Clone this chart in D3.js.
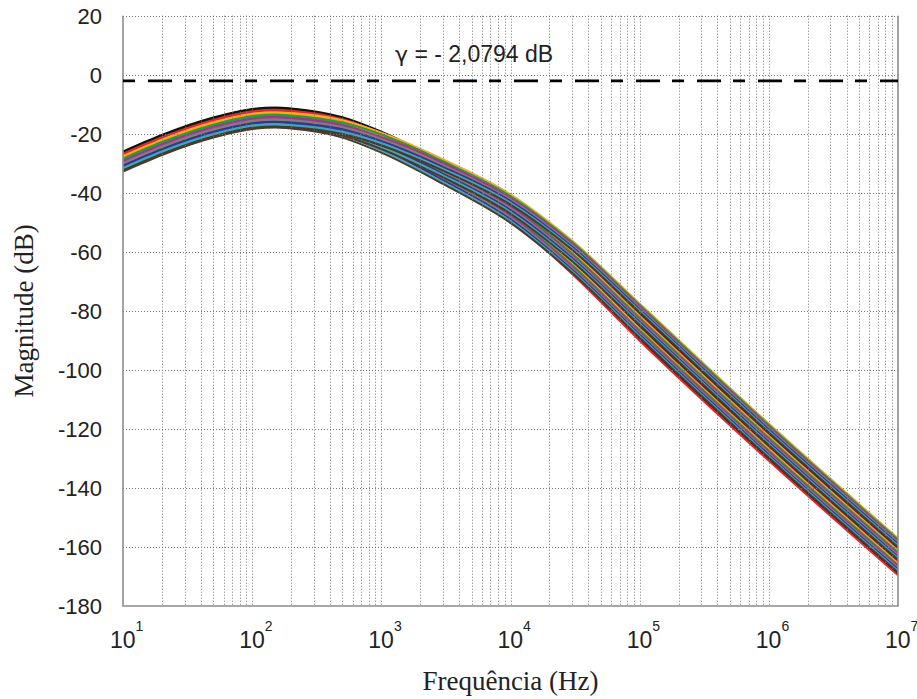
<!DOCTYPE html>
<html>
<head>
<meta charset="utf-8">
<script src="https://cdn.jsdelivr.net/npm/d3@7"></script>
<style>
    body { margin: 0; background: #fff; }
    #chart-container { width: 917px; height: 699px; }
</style>
</head>
<body>
<div id="chart-container"></div>
<script>
const freqs = [10, 20, 50, 100, 150, 200, 500, 1e3, 3e3, 1e4, 3e4, 1e5, 1e6, 1e7];

// Magnitude (dB), one row per curve, grouped by colour
const blackCurves = [
    [-26.0, -20.4, -14.5, -11.6, -11.1, -11.4, -14.4, -19.3, -29.6, -42.5, -59.2, -81.0, -121.7, -160.5],
    [-26.2, -20.6, -14.7, -11.8, -11.3, -11.6, -15.0, -20.5, -31.8, -45.5, -63.0, -85.3, -126.0, -164.8],
    [-26.4, -20.8, -14.9, -12.0, -11.5, -11.8, -15.6, -21.7, -34.1, -48.6, -66.9, -89.6, -130.3, -169.1]
];
const redCurves = [
    [-26.8, -21.2, -15.3, -12.4, -11.9, -12.2, -15.1, -20.0, -30.2, -43.0, -59.7, -81.5, -122.2, -161.0],
    [-27.0, -21.4, -15.5, -12.6, -12.1, -12.4, -15.7, -21.2, -32.5, -46.1, -63.6, -85.8, -126.5, -165.3],
    [-27.2, -21.6, -15.7, -12.8, -12.3, -12.6, -16.3, -22.5, -34.7, -49.2, -67.5, -90.1, -130.8, -169.6]
];
const goldCurves = [
    [-27.6, -22.0, -16.1, -13.2, -12.7, -13.0, -15.4, -19.6, -28.6, -40.5, -56.2, -77.5, -118.2, -157.0],
    [-27.8, -22.2, -16.3, -13.4, -12.9, -13.2, -16.1, -20.8, -30.9, -43.6, -60.1, -81.8, -122.5, -161.3],
    [-28.0, -22.4, -16.5, -13.6, -13.1, -13.4, -16.7, -22.1, -33.1, -46.6, -63.9, -86.1, -126.8, -165.6]
];
const greenCurves = [
    [-28.4, -22.8, -16.9, -14.0, -13.5, -13.8, -16.2, -20.3, -29.3, -41.1, -56.7, -78.0, -118.7, -157.5],
    [-28.6, -23.0, -17.1, -14.2, -13.7, -14.0, -16.8, -21.6, -31.5, -44.1, -60.6, -82.3, -123.0, -161.8],
    [-28.8, -23.2, -17.3, -14.4, -13.9, -14.2, -17.4, -22.8, -33.8, -47.2, -64.5, -86.6, -127.3, -166.1]
];
const magentaCurves = [
    [-29.2, -23.6, -17.7, -14.8, -14.3, -14.6, -17.0, -21.1, -29.9, -41.7, -57.2, -78.5, -119.2, -158.0],
    [-29.4, -23.8, -17.9, -15.0, -14.5, -14.8, -17.6, -22.3, -32.2, -44.7, -61.1, -82.8, -123.5, -162.3],
    [-29.6, -24.0, -18.1, -15.2, -14.7, -15.0, -18.2, -23.5, -34.4, -47.8, -65.0, -87.1, -127.8, -166.6]
];
const grayCurves = [
    [-30.0, -24.4, -18.5, -15.6, -15.1, -15.4, -17.8, -21.8, -30.6, -42.3, -57.8, -79.0, -119.7, -158.5],
    [-30.2, -24.6, -18.7, -15.8, -15.3, -15.6, -18.4, -23.0, -32.8, -45.3, -61.6, -83.3, -124.0, -162.8],
    [-30.4, -24.8, -18.9, -16.0, -15.5, -15.8, -19.0, -24.2, -35.1, -48.4, -65.5, -87.6, -128.3, -167.1]
];
const blueCurves = [
    [-30.8, -25.2, -19.3, -16.4, -15.9, -16.2, -18.5, -22.5, -31.2, -42.8, -58.3, -79.5, -120.2, -159.0],
    [-31.0, -25.4, -19.5, -16.6, -16.1, -16.4, -19.1, -23.7, -33.5, -45.9, -62.2, -83.8, -124.5, -163.3],
    [-31.2, -25.6, -19.7, -16.8, -16.3, -16.6, -19.7, -25.0, -35.7, -49.0, -66.1, -88.1, -128.8, -167.6]
];
const cyanCurves = [
    [-31.6, -26.0, -20.1, -17.2, -16.7, -17.0, -19.3, -23.2, -31.9, -43.4, -58.8, -80.0, -120.7, -159.5],
    [-31.8, -26.2, -20.3, -17.4, -16.9, -17.2, -19.9, -24.5, -34.1, -46.5, -62.7, -84.3, -125.0, -163.8],
    [-32.0, -26.4, -20.5, -17.6, -17.1, -17.4, -20.5, -25.7, -36.4, -49.6, -66.6, -88.6, -129.3, -168.1]
];
const brownCurves = [
    [-32.4, -26.8, -20.9, -18.0, -17.5, -17.8, -20.1, -24.0, -32.5, -44.0, -59.3, -80.5, -121.2, -160.0],
    [-32.6, -27.0, -21.1, -18.2, -17.7, -18.0, -20.7, -25.2, -34.8, -47.1, -63.2, -84.8, -125.5, -164.3],
    [-32.8, -27.2, -21.3, -18.4, -17.9, -18.2, -21.3, -26.4, -37.0, -50.2, -67.1, -89.1, -129.8, -168.6]
];

const curveGroups = [blackCurves, redCurves, goldCurves, greenCurves, magentaCurves,
    grayCurves, blueCurves, cyanCurves, brownCurves];
const groupColors = ['#1a1208', '#e3262b', '#f0b020', '#2a9a48', '#a5358d',
    '#7f7f7f', '#2b3a92', '#44a5b3', '#4a3a2c'];

const yTicks = [20, 0, -20, -40, -60, -80, -100, -120, -140, -160, -180];
const xDecades = [1, 2, 3, 4, 5, 6, 7];
const gammaDb = -2.0794;

const margin = { left: 123, right: 19, top: 15.7, bottom: 93 };
const width = 917;
const height = 699;

const svg = d3.select('#chart-container').append('svg')
    .attr('width', width)
    .attr('height', height)
    .attr('font-family', 'Arial, "Liberation Sans", sans-serif');

const x = d3.scaleLog()
    .domain([10, 1e7])
    .range([margin.left, width - margin.right]);

const y = d3.scaleLinear()
    .domain([-180, 20])
    .range([height - margin.bottom, margin.top]);

const [x0, x1] = x.range();
const [yBottom, yTop] = y.range();

svg.append('clipPath')
    .attr('id', 'plot-clip')
    .append('rect')
    .attr('x', x0)
    .attr('y', yTop)
    .attr('width', x1 - x0)
    .attr('height', yBottom - yTop);

// curves
const line = d3.line()
    .x((d, i) => x(freqs[i]))
    .y(d => y(d))
    .curve(d3.curveMonotoneX);

const curveLayer = svg.append('g').attr('clip-path', 'url(#plot-clip)');
curveGroups.forEach((group, g) => {
    curveLayer.selectAll(null)
        .data(group)
        .enter().append('path')
        .attr('d', line)
        .attr('fill', 'none')
        .attr('stroke', groupColors[g])
        .attr('stroke-width', 2);
});

// grid (drawn over the curves, as in the original)
const minorFreqs = [];
for (let e = 1; e < 7; e++) {
    for (let m = 1; m < 10; m++) minorFreqs.push(m * Math.pow(10, e));
}
const grid = svg.append('g')
    .attr('stroke', '#777')
    .attr('stroke-width', 1)
    .attr('stroke-dasharray', '1,2');

grid.selectAll('.vgrid')
    .data(minorFreqs.filter(f => f > 10))
    .enter().append('line')
    .attr('class', 'vgrid')
    .attr('x1', d => Math.round(x(d)) + 0.5)
    .attr('x2', d => Math.round(x(d)) + 0.5)
    .attr('y1', yTop)
    .attr('y2', yBottom);

grid.selectAll('.hgrid')
    .data(yTicks.filter(t => t > -180))
    .enter().append('line')
    .attr('class', 'hgrid')
    .attr('x1', x0)
    .attr('x2', x1)
    .attr('y1', d => Math.round(y(d)) + 0.5)
    .attr('y2', d => Math.round(y(d)) + 0.5);

// frame: left, bottom, right solid
svg.append('path')
    .attr('d', `M${x0},${yTop}V${yBottom}H${x1}V${yTop}`)
    .attr('fill', 'none')
    .attr('stroke', '#8c8c8c')
    .attr('stroke-width', 1.6);

// gamma reference line
svg.append('line')
    .attr('x1', x0)
    .attr('x2', x1)
    .attr('y1', y(gammaDb))
    .attr('y2', y(gammaDb))
    .attr('stroke', '#000')
    .attr('stroke-width', 2.6)
    .attr('stroke-dasharray', '12,13,24,12');

const note = svg.append('text')
    .attr('x', 395)
    .attr('y', 62)
    .attr('font-size', 23)
    .attr('fill', '#222');
note.append('tspan')
    .attr('font-family', '"DejaVu Sans", sans-serif')
    .attr('font-size', 22)
    .text('γ');
note.append('tspan').text(' = - 2,0794 dB');

// y tick labels
svg.selectAll('.ylab')
    .data(yTicks)
    .enter().append('text')
    .attr('class', 'ylab')
    .attr('x', 102)
    .attr('y', d => y(d))
    .attr('dy', '0.36em')
    .attr('text-anchor', 'end')
    .attr('font-size', 22)
    .attr('fill', '#222')
    .text(d => d);

// x tick labels: 10^n
const xlab = svg.selectAll('.xlab')
    .data(xDecades)
    .enter().append('text')
    .attr('class', 'xlab')
    .attr('x', d => x(Math.pow(10, d)) - 13)
    .attr('y', 648)
    .attr('font-size', 23)
    .attr('fill', '#222');
xlab.append('tspan').text('10');
xlab.append('tspan')
    .attr('dy', -17)
    .attr('font-size', 14)
    .text(d => d);

// axis titles
svg.append('text')
    .attr('x', (x0 + x1) / 2)
    .attr('y', 690)
    .attr('text-anchor', 'middle')
    .attr('font-family', '"Liberation Serif", "Times New Roman", serif')
    .attr('font-size', 27)
    .attr('fill', '#222')
    .text('Frequência (Hz)');

svg.append('text')
    .attr('transform', `translate(33,${(yTop + yBottom) / 2}) rotate(-90)`)
    .attr('text-anchor', 'middle')
    .attr('font-family', '"Liberation Serif", "Times New Roman", serif')
    .attr('font-size', 27)
    .attr('fill', '#222')
    .text('Magnitude (dB)');
</script>
</body>
</html>
